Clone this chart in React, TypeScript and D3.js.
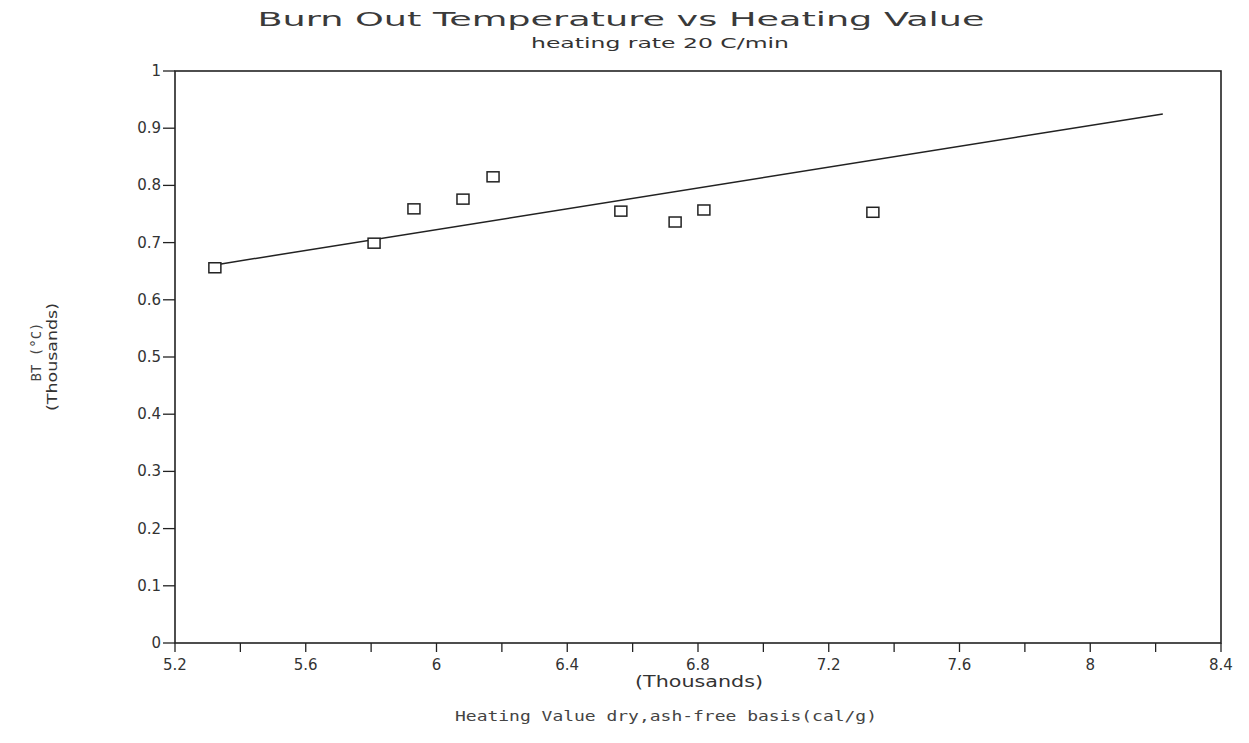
import React from "react";
import * as d3 from "d3";

// Heating value (thousands cal/g) and burn-out temperature (thousands °C)
const heatingValue = [5.322, 5.809, 5.931, 6.081, 6.173, 6.564, 6.73, 6.818, 7.335];
const burnOutTemp = [0.656, 0.699, 0.759, 0.776, 0.815, 0.755, 0.736, 0.757, 0.753];

// Fitted trend line end points [x, y]
const fitLine: [number, number][] = [
  [5.322, 0.661],
  [8.222, 0.925],
];

const xTicks = [5.2, 5.4, 5.6, 5.8, 6.0, 6.2, 6.4, 6.6, 6.8, 7.0, 7.2, 7.4, 7.6, 7.8, 8.0, 8.2, 8.4];
const xTickLabels = ["5.2", "5.6", "6", "6.4", "6.8", "7.2", "7.6", "8", "8.4"];
const yTicks = [0, 0.1, 0.2, 0.3, 0.4, 0.5, 0.6, 0.7, 0.8, 0.9, 1];
const yTickLabels = ["0", "0.1", "0.2", "0.3", "0.4", "0.5", "0.6", "0.7", "0.8", "0.9", "1"];

const W = 1249;
const H = 743;
const left = 175;
const right = 1221;
const top = 71;
const bottom = 643;

const ink = "#222";
const labelFont = "DejaVu Sans, Verdana, sans-serif";
const monoFont = "DejaVu Sans Mono, monospace";

export default function App() {
  const x = d3.scaleLinear().domain([5.2, 8.4]).range([left, right]);
  const y = d3.scaleLinear().domain([0, 1]).range([bottom, top]);
  const line = d3
    .line<[number, number]>()
    .x((d) => x(d[0]))
    .y((d) => y(d[1]));

  const labeledX = xTickLabels.map((s) => +s);

  return (
    <svg
      width={W}
      height={H}
      style={{ position: "absolute", left: 0, top: 0, background: "#fff" }}
    >
      {/* Titles */}
      <text
        x={621}
        y={26}
        textAnchor="middle"
        fontFamily={labelFont}
        fontSize={20}
        fill="#3a3a3a"
        textLength={727}
        lengthAdjust="spacingAndGlyphs"
      >
        Burn Out Temperature vs Heating Value
      </text>
      <text
        x={660}
        y={48}
        textAnchor="middle"
        fontFamily={labelFont}
        fontSize={14}
        fill="#333"
        textLength={258}
        lengthAdjust="spacingAndGlyphs"
      >
        heating rate 20 C/min
      </text>

      {/* Plot frame */}
      <rect
        x={left}
        y={top}
        width={right - left}
        height={bottom - top}
        fill="none"
        stroke={ink}
        strokeWidth={1.6}
      />

      {/* X axis ticks */}
      {xTicks.map((t) => (
        <line
          key={"xt" + t}
          x1={x(t)}
          x2={x(t)}
          y1={bottom}
          y2={bottom + 9}
          stroke={ink}
          strokeWidth={1.3}
        />
      ))}
      {labeledX.map((t, i) => (
        <text
          key={"xl" + t}
          x={x(t)}
          y={bottom + 27}
          textAnchor="middle"
          fontFamily={labelFont}
          fontSize={15}
          fill="#333"
        >
          {xTickLabels[i]}
        </text>
      ))}
      <text
        x={699}
        y={687}
        textAnchor="middle"
        fontFamily={labelFont}
        fontSize={15}
        fill="#333"
        textLength={128}
        lengthAdjust="spacingAndGlyphs"
      >
        (Thousands)
      </text>
      <text
        x={666}
        y={721}
        textAnchor="middle"
        fontFamily={monoFont}
        fontSize={14}
        fill="#444"
        textLength={422}
        lengthAdjust="spacingAndGlyphs"
      >
        Heating Value dry,ash-free basis(cal/g)
      </text>

      {/* Y axis ticks */}
      {yTicks.map((t, i) => (
        <g key={"yt" + t}>
          <line
            x1={left - 12}
            x2={left}
            y1={y(t)}
            y2={y(t)}
            stroke={ink}
            strokeWidth={1.3}
          />
          <text
            x={left - 14}
            y={y(t) + 5}
            textAnchor="end"
            fontFamily={labelFont}
            fontSize={15}
            fill="#333"
          >
            {yTickLabels[i]}
          </text>
        </g>
      ))}
      <text
        transform={`translate(41,352) rotate(-90)`}
        textAnchor="middle"
        fontFamily={monoFont}
        fontSize={14}
        fill="#444"
      >
        BT (°C)
      </text>
      <text
        transform={`translate(57,357) rotate(-90)`}
        textAnchor="middle"
        fontFamily={labelFont}
        fontSize={14}
        fill="#333"
        textLength={108}
        lengthAdjust="spacingAndGlyphs"
      >
        (Thousands)
      </text>

      {/* Trend line */}
      <path d={line(fitLine) ?? ""} fill="none" stroke={ink} strokeWidth={1.5} />

      {/* Data markers */}
      {heatingValue.map((hv, i) => (
        <rect
          key={"p" + i}
          x={x(hv) - 6}
          y={y(burnOutTemp[i]) - 5}
          width={12}
          height={10}
          fill="#fff"
          stroke={ink}
          strokeWidth={1.5}
        />
      ))}
    </svg>
  );
}
